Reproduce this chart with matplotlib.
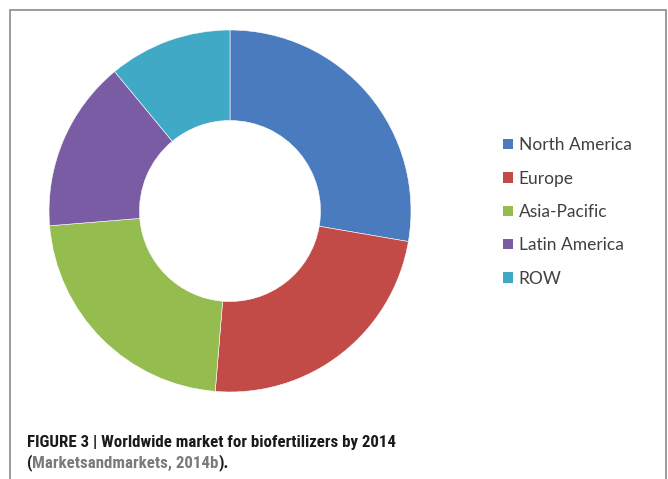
import matplotlib
matplotlib.use('Agg')
import matplotlib.pyplot as plt
from matplotlib import font_manager
from matplotlib.patches import Rectangle, Patch

regions = ['North America', 'Europe', 'Asia-Pacific', 'Latin America', 'ROW']
shares = [27.7, 23.6, 22.4, 15.3, 11.0]
colors = ['#4a7bbf', '#c24b48', '#95bc4f', '#7a5ca5', '#40a9c6']

W, H = 668, 479
fig = plt.figure(figsize=(W/100, H/100), dpi=100)

# frame around the chart
fig.patches.append(Rectangle((10/W, -0.1), 656/W, 1.1 - 10/H, transform=fig.transFigure,
                             fill=False, edgecolor='#8a8a8a', linewidth=1.2))

# donut
cx, cy, r = 230, 211, 181
ax = fig.add_axes([(cx - r)/W, (H - cy - r)/H, 2*r/W, 2*r/H])
ax.pie(shares, colors=colors, startangle=90, counterclock=False, radius=1,
       wedgeprops=dict(width=0.5, edgecolor='white', linewidth=0.4))
ax.set_xlim(-1, 1)
ax.set_ylim(-1, 1)
ax.axis('off')

# legend
handles = [Patch(facecolor=c, edgecolor='none') for c in colors]
leg = fig.legend(handles, regions, loc='center left', bbox_to_anchor=(503/W, (H - 212)/H),
                 frameon=False, handlelength=0.6, handleheight=0.55,
                 handletextpad=0.3, labelspacing=1.0, borderpad=0, borderaxespad=0,
                 prop={'family': 'Lato', 'size': 12.5})
for t in leg.get_texts():
    t.set_color('#404040')

# caption, pick a narrow face if there is one
cap_font = 'Liberation Sans'
for name in ['Liberation Sans Narrow', 'Roboto Condensed']:
    try:
        font_manager.findfont(name, fallback_to_default=False)
        cap_font = name
        break
    except ValueError:
        pass
cap = dict(family=[cap_font, 'DejaVu Sans'], fontweight='bold', va='center', ha='left')
t1 = fig.text(27/W, (H - 442)/H, 'FIGURE 3 | Worldwide market for biofertilizers by 2014',
              color='#1a1a1a', fontsize=10, **cap)
fig.canvas.draw()
rend = fig.canvas.get_renderer()
fs = 10 * 370 / t1.get_window_extent(rend).width
t1.set_fontsize(fs)
x = 27
for s, c in [('(', '#1a1a1a'), ('Marketsandmarkets, 2014b', '#7a7a7a'), (').', '#1a1a1a')]:
    t = fig.text(x/W, (H - 463)/H, s, color=c, fontsize=fs, **cap)
    x = t.get_window_extent(rend).x1

fig.savefig('out.png', dpi=100)
